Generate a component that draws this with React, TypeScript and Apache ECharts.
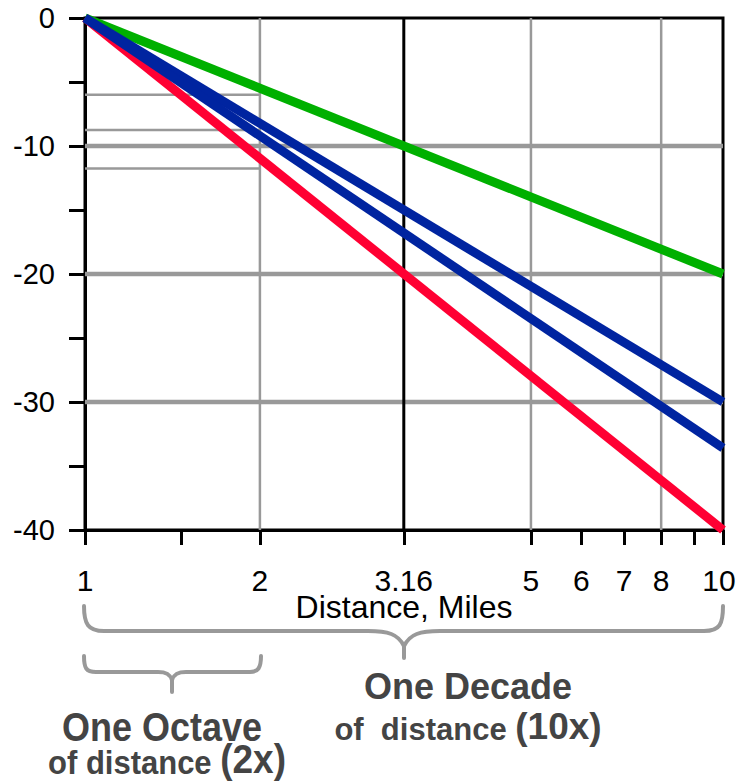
import React, { useEffect, useRef } from "react";
import * as echarts from "echarts";

// ---- axis definitions ----
const xMin = 1;
const xMax = 10;
const yMin = -40;
const yMax = 0;
const yTickInterval = 5;
// tick marks on the distance axis (the "2" mark sits where the picture draws it)
const xTickValues = [1, 1.414, 1.88, 3.16, 5, 6, 7, 8, 9, 10];
const xLabelValues = [1, 1.88, 3.16, 5, 6, 7, 8, 10];
const xLabelTexts = ["1", "2", "3.16", "5", "6", "7", "8", "10"];

// ---- series data (distance in miles -> level in dB) ----
const distances = [1, 10];
const green20 = [0, -20];
const blue30 = [0, -30];
const blue336 = [0, -33.6];
const red40 = [0, -40];

// ---- reference grid lines ----
const majorGridY = [-10, -20, -30];
const minorGridY = [-6, -8.75, -11.75];
const minorGridXEnd = 1.88;
const grayGridX = [1.88, 5, 8];
const blackGridX = [3.16];

// ---- braces ----
const bigBracePath =
  "M84,606 C84,624 88,631 104,631 L368,631 C388,631 398,634 404,646 C410,634 420,631 440,631 L704,631 C720,631 723,624 723,606 M404,646 L404,658";
const smallBracePath =
  "M84,656 C84,668 86,672 96,672 L158,672 C166,672 170,674 172,680 C174,674 178,672 186,672 L250,672 C258,672 261,668 261,656 M172,680 L172,692";

echarts.graphic.registerShape("bigBrace", echarts.graphic.extendPath(bigBracePath, {}));
echarts.graphic.registerShape("smallBrace", echarts.graphic.extendPath(smallBracePath, {}));

const FONT = '"Liberation Sans", Arial, Helvetica, sans-serif';

export default function App() {
  const ref = useRef<HTMLDivElement>(null);

  useEffect(() => {
    const chart = echarts.init(ref.current!, null, { renderer: "svg" });

    const seg = (pts: number[][], color: string, width: number, z: number) => ({
      type: "line",
      data: pts,
      symbol: "none",
      silent: true,
      z,
      clip: false,
      lineStyle: { color, width, cap: "butt" },
    });

    const series: any[] = [];
    majorGridY.forEach((v) => series.push(seg([[xMin, v], [xMax, v]], "#999999", 4.5, 1)));
    minorGridY.forEach((v) => series.push(seg([[xMin, v], [minorGridXEnd, v]], "#999999", 2.5, 1)));
    grayGridX.forEach((v) => series.push(seg([[v, yMin], [v, yMax]], "#999999", 2.5, 1)));
    blackGridX.forEach((v) => series.push(seg([[v, yMin], [v, yMax]], "#000000", 3, 1)));

    const zip = (ys: number[]) => distances.map((d, i) => [d, ys[i]]);
    series.push(seg(zip(green20), "#00B000", 9, 3));
    series.push(seg(zip(red40), "#FF0033", 9, 3));
    series.push(seg(zip(blue30), "#0024A0", 9, 3));
    series.push(seg(zip(blue336), "#0024A0", 9, 3));

    const labelFor = (v: number) => {
      const i = xLabelValues.findIndex((x) => Math.abs(x - v) < 1e-6);
      if (i < 0) return "";
      return i === xLabelValues.length - 1 ? `{last|${xLabelTexts[i]}}` : xLabelTexts[i];
    };

    const yLabelFor = (v: number) => (v % 10 === 0 ? String(v) : "");

    const textFill = "#444444";
    const richSmall = { fontFamily: FONT, fontWeight: "bold", fontSize: 31, lineHeight: 36, verticalAlign: "bottom", fill: textFill };
    const richBig = { fontFamily: FONT, fontWeight: "bold", fontSize: 37, lineHeight: 36, verticalAlign: "bottom", fill: textFill };

    chart.setOption({
      animation: false,
      grid: {
        left: 85,
        top: 18,
        width: 638,
        height: 512,
        show: true,
        borderColor: "#000",
        borderWidth: 3,
        backgroundColor: "transparent",
        containLabel: false,
        outerBoundsMode: "none",
      },
      xAxis: {
        type: "log",
        logBase: 10,
        min: xMin,
        max: xMax,
        name: "Distance, Miles",
        nameLocation: "middle",
        nameGap: 61,
        nameMoveOverlap: false,
        nameTextStyle: { fontFamily: FONT, fontSize: 32, color: "#000" },
        axisLine: { show: true, onZero: false, lineStyle: { color: "#000", width: 3 } },
        axisTick: {
          show: true,
          inside: false,
          length: 15,
          customValues: xTickValues,
          lineStyle: { color: "#000", width: 3 },
        },
        axisLabel: {
          show: true,
          customValues: xLabelValues,
          formatter: (v: number) => labelFor(v),
          margin: 35,
          fontFamily: FONT,
          fontSize: 30,
          color: "#000",
          rich: {
            last: { fontFamily: FONT, fontSize: 30, color: "#000", padding: [0, 8, 0, 0] },
          },
        },
        splitLine: { show: false },
        minorTick: { show: false },
        minorSplitLine: { show: false },
      },
      yAxis: {
        type: "value",
        min: yMin,
        max: yMax,
        interval: yTickInterval,
        axisLine: { show: true, onZero: false, lineStyle: { color: "#000", width: 3 } },
        axisTick: { show: true, inside: false, length: 16, lineStyle: { color: "#000", width: 3 } },
        axisLabel: {
          formatter: (v: number) => yLabelFor(v),
          margin: 30,
          align: "right",
          showMaxLabel: true,
          showMinLabel: true,
          fontFamily: FONT,
          fontSize: 29,
          color: "#000",
        },
        splitLine: { show: false },
      },
      series,
      graphic: [
        {
          type: "bigBrace",
          silent: true,
          style: { stroke: "#999999", lineWidth: 4, fill: "none", lineCap: "round", lineJoin: "round" },
        },
        {
          type: "smallBrace",
          silent: true,
          style: { stroke: "#999999", lineWidth: 4, fill: "none", lineCap: "round", lineJoin: "round" },
        },
        {
          type: "text",
          x: 468,
          y: 686,
          silent: true,
          style: {
            text: "One Decade",
            x: 0,
            y: 0,
            align: "center",
            verticalAlign: "middle",
            font: `bold 36px ${FONT}`,
            fill: textFill,
          },
        },
        {
          type: "text",
          x: 468,
          y: 727,
          silent: true,
          style: {
            text: "{a|of  distance }{b|(10x)}",
            x: 0,
            y: 0,
            align: "center",
            verticalAlign: "middle",
            rich: { a: richSmall, b: richBig },
          },
        },
        {
          type: "text",
          x: 162,
          y: 727,
          scaleY: 1.12,
          silent: true,
          style: {
            text: "One Octave",
            x: 0,
            y: 0,
            align: "center",
            verticalAlign: "middle",
            font: `bold 36px ${FONT}`,
            fill: textFill,
          },
        },
        {
          type: "text",
          x: 167,
          y: 760,
          scaleY: 1.08,
          silent: true,
          style: {
            text: "{a|of distance }{b|(2x)}",
            x: 0,
            y: 0,
            align: "center",
            verticalAlign: "middle",
            rich: { a: richSmall, b: richBig },
          },
        },
      ],
    });

    return () => chart.dispose();
  }, []);

  return (
    <div
      ref={ref}
      style={{ position: "absolute", left: 0, top: 0, width: 736, height: 781, background: "#fff" }}
    />
  );
}
